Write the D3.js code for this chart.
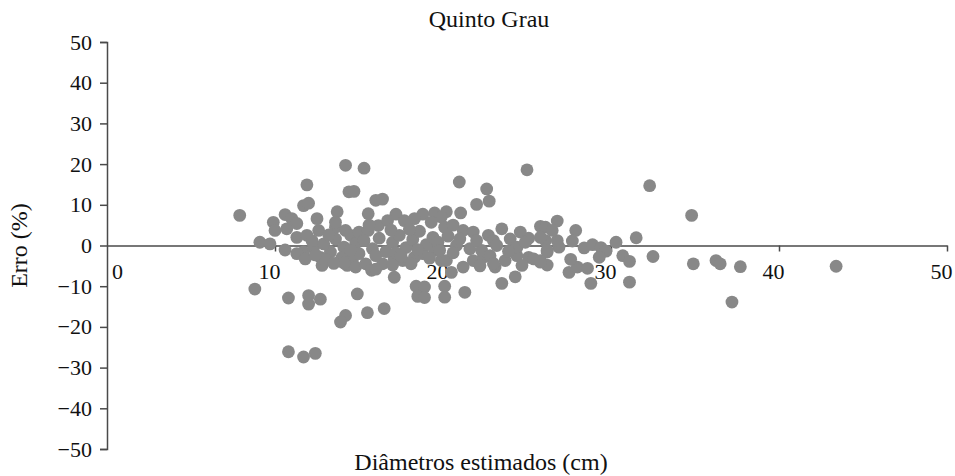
<!DOCTYPE html>
<html>
<head>
<meta charset="utf-8">
<script src="https://cdn.jsdelivr.net/npm/d3@7"></script>
<style>
  html, body { margin: 0; padding: 0; background: #fff; }
  svg { display: block; }
  svg text { font-family: "Times New Roman", "Liberation Serif", Tinos, "DejaVu Serif", "Noto Serif", Times, serif !important; fill: #111; }
</style>
</head>
<body>
<div id="chart"></div>
<script>
// ---- Data ----
const title = "Quinto Grau";
const xLabel = "Diâmetros estimados (cm)";
const yLabel = "Erro (%)";
const xTicks = [0, 10, 20, 30, 40, 50];
const yTicks = [-50, -40, -30, -20, -10, 0, 10, 20, 30, 40, 50];

// Estimated diameter (cm)
const diametro = [
  7.9, 9.1, 9.7, 8.8, 9.9, 10.0, 10.6, 11.0, 11.3, 10.7,
  10.6, 11.3, 11.9, 11.7, 11.3, 11.8, 11.9, 11.7, 12.0, 12.5,
  12.6, 12.3, 12.7, 12.8, 13.7, 13.6, 14.2, 13.6, 14.1, 13.3,
  13.9, 14.3, 14.2, 14.4, 14.7, 12.0, 12.0, 12.7, 10.8, 14.2,
  13.9, 10.8, 11.7, 12.4, 15.3, 16.0, 16.4, 15.55, 17.2, 18.8,
  19.5, 20.2, 21.05, 14.9, 15.5, 16.5, 17.1, 18.4, 18.9, 20.1,
  18.5, 18.9, 20.1, 21.3, 20.97, 22.6, 22.0, 22.75, 25.0, 23.5,
  24.3, 32.3, 34.8, 31.5, 30.3, 32.5, 34.9, 36.25, 36.5, 37.7,
  43.4, 37.2, 30.7, 31.1, 31.1, 28.8, 27.5, 28.0, 28.6, 27.6,
  27.9, 27.7, 26.8, 28.4, 28.9, 29.4, 29.7, 29.3, 26.9, 26.8,
  25.8, 24.6, 25.1, 23.5, 26.1, 26.2, 25.8, 26.1, 26.2, 26.5,
  13.6, 14.5, 15.0, 15.55, 16.15, 16.7, 17.7, 18.3, 19.9, 19.3,
  14.0, 14.6, 14.8, 15.4, 15.75, 16.4, 17.1, 17.6, 18.3, 18.8,
  19.5, 19.9, 14.8, 15.3, 15.8, 16.2, 16.6, 17.0, 17.4, 17.8,
  18.2, 18.6, 19.0, 19.4, 15.0, 16.0, 17.2, 18.0, 16.9, 15.6,
  14.5, 18.5, 19.7, 16.0, 17.0, 18.1, 14.1,
  20.1, 21.2, 21.8, 22.7, 24.0, 23.0, 20.2, 20.5, 21.2, 21.8,
  22.4, 23.1, 23.7, 24.4, 25.1, 25.8, 26.2, 20.8, 21.6, 22.3,
  23.2, 24.4, 25.8, 21.0, 22.0, 22.8, 19.8, 20.6, 20.3, 24.9,
  23.9, 20.6,
  12.2, 12.9, 13.2, 13.0, 13.5, 12.4,
  24.7, 25.4, 23.0, 22.2, 19.2, 17.5
];

// Error (%)
const erro = [
  7.4, 0.8, 0.4, -10.7, 5.7, 3.7, 7.6, 6.6, 5.4, 4.1,
  -1.1, 2.0, 2.5, -1.6, -2.0, -3.3, 14.9, 9.8, 10.4, 6.6,
  3.7, -0.4, -2.9, -4.9, 8.3, 4.5, 3.7, 1.6, -0.4, -1.6,
  -3.7, -4.9, 19.7, 13.2, 13.3, -12.3, -14.4, -13.2, -12.9, -17.2,
  -18.8, -26.1, -27.4, -26.5, 19.0, 11.1, 11.4, 7.8, 7.7, 7.7,
  8.0, 8.3, 8.0, -11.9, -16.5, -15.5, -7.8, -10.0, -10.2, -10.0,
  -12.5, -12.8, -12.7, -11.5, 15.6, 13.9, 10.1, 10.9, 18.6, -9.3,
  -7.7, 14.7, 7.4, 1.9, 0.8, -2.7, -4.5, -3.7, -4.5, -5.2,
  -5.1, -13.9, -2.5, -3.9, -9.0, -9.3, -6.6, -5.3, -5.6, -3.4,
  3.7, 1.1, 6.0, -0.6, 0.2, -0.5, -1.4, -2.9, -0.4, 1.2,
  4.7, 3.3, 1.8, 4.1, 1.2, -4.8, -3.7, 4.5, -1.6, 3.7,
  5.7, 2.5, 3.3, 3.7, 4.9, 6.1, 6.1, 6.6, 7.0, 5.7,
  -2.9, -3.7, -5.3, -4.5, -6.1, -4.5, -3.3, -3.7, -2.9, -2.0,
  -1.2, -3.7, 0.5, 1.2, -0.8, 1.8, -1.5, 0.8, 2.5, -0.5,
  1.5, 3.5, 0.2, 2.0, -2.0, -2.5, -1.8, 4.0, 3.8, 5.0,
  -1.2, -1.0, 0.8, -5.8, -4.8, -4.5, -4.3,
  4.5, 3.7, 3.3, 2.5, 1.6, 1.2, -3.7, -6.6, -5.3, -3.7,
  -2.9, -5.3, -3.7, -2.5, -2.9, -4.1, -1.2, 0.0, -0.8, -1.2,
  0.0, -0.4, 2.0, 1.6, 1.2, -2.5, -1.2, -1.8, 2.3, 0.8,
  -1.4, 5.0,
  1.2, 0.4, 2.6, -3.5, -4.4, -2.3,
  -4.9, -3.3, -4.4, -5.0, -3.1, -2.6
];

const points = diametro.map((d, i) => ({ x: d, y: erro[i] }));

// ---- Layout ----
const W = 955, H = 476;
const svg = d3.select("#chart").append("svg")
  .attr("width", W).attr("height", H);

const x = d3.scaleLinear().domain([0, 50]).range([107, 947]);
const y = d3.scaleLinear().domain([-50, 50]).range([449, 42]);

const axisColor = "#4a4a4a";
const serif = '"Times New Roman", "Liberation Serif", Tinos, "DejaVu Serif", serif';

// Y axis
const yAxis = svg.append("g")
  .attr("transform", `translate(${x(0)},0)`)
  .call(d3.axisLeft(y).tickValues(yTicks).tickSize(7).tickPadding(8)
    .tickFormat(d => d < 0 ? "\u2212" + Math.abs(d) : String(d)));
yAxis.attr("font-family", serif);
yAxis.select(".domain").attr("stroke", axisColor).attr("stroke-width", 1.5);
yAxis.selectAll(".tick line").attr("stroke", axisColor).attr("stroke-width", 1.5);
yAxis.selectAll(".tick text")
  .attr("font-size", 22).attr("fill", "#111");

// X axis (at y = 0)
const xAxis = svg.append("g")
  .attr("transform", `translate(0,${y(0)})`)
  .call(d3.axisBottom(x).tickValues(xTicks).tickSize(6).tickSizeOuter(0).tickPadding(12)
    .tickFormat(d3.format("d")));
xAxis.attr("font-family", serif);
xAxis.select(".domain").attr("stroke", axisColor).attr("stroke-width", 1.5);
xAxis.selectAll(".tick line").attr("stroke", axisColor).attr("stroke-width", 1.5)
  .attr("opacity", d => d === 0 ? 0 : 1);
xAxis.selectAll(".tick text")
  .attr("font-size", 22).attr("fill", "#111")
  .attr("dx", d => d === 0 ? 10 : -6);

// Points
svg.append("g")
  .selectAll("circle")
  .data(points)
  .join("circle")
  .attr("cx", d => x(d.x))
  .attr("cy", d => y(d.y))
  .attr("r", 6.4)
  .attr("fill", "#888888");

// Title
svg.append("text")
  .attr("x", 489).attr("y", 27)
  .attr("text-anchor", "middle")
  .attr("font-size", 24)
  .text(title);

// X label
svg.append("text")
  .attr("x", 481).attr("y", 470)
  .attr("text-anchor", "middle")
  .attr("font-size", 24)
  .text(xLabel);

// Y label
svg.append("text")
  .attr("transform", `translate(27,${y(0)}) rotate(-90)`)
  .attr("text-anchor", "middle")
  .attr("font-size", 24)
  .text(yLabel);
</script>
</body>
</html>
